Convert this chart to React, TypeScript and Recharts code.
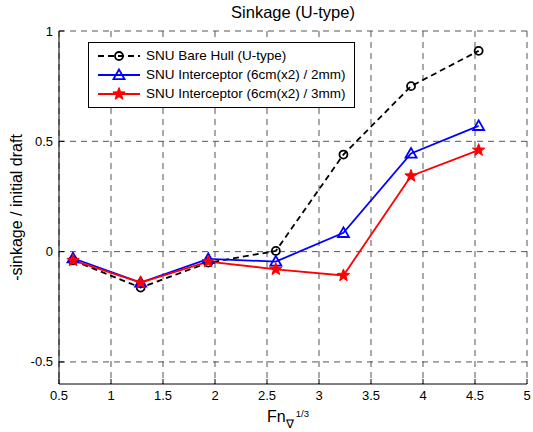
import React from 'react'
import {
  LineChart,
  Line,
  XAxis,
  YAxis,
  CartesianGrid,
} from 'recharts'

const FN = [0.635, 1.285, 1.935, 2.585, 3.235, 3.885, 4.535]
const BARE_HULL = [-0.04, -0.163, -0.05, 0.003, 0.44, 0.75, 0.91]
const INTERCEPTOR_2MM = [-0.03, -0.14, -0.033, -0.045, 0.085, 0.445, 0.57]
const INTERCEPTOR_3MM = [-0.04, -0.14, -0.045, -0.08, -0.108, 0.343, 0.46]

const X_TICKS = [0.5, 1, 1.5, 2, 2.5, 3, 3.5, 4, 4.5, 5]
const Y_TICKS = [-0.5, 0, 0.5, 1]

const SERIES = [
  { key: 'bare', name: 'SNU Bare Hull (U-type)', color: '#000000', dash: '6 4', marker: 'circle' },
  { key: 'i2', name: 'SNU Interceptor (6cm(x2) / 2mm)', color: '#0000ff', dash: undefined, marker: 'triangle' },
  { key: 'i3', name: 'SNU Interceptor (6cm(x2) / 3mm)', color: '#ff0000', dash: undefined, marker: 'star' },
]

const data = FN.map((fn, i) => ({
  fn,
  bare: BARE_HULL[i],
  i2: INTERCEPTOR_2MM[i],
  i3: INTERCEPTOR_3MM[i],
}))

const FONT = '"Liberation Sans", Arial, Helvetica, sans-serif'
const TICK_GAP = 6
const TICK_LEN = 5

function Marker({ type, cx, cy, color }: { type: string; cx: number; cy: number; color: string }) {
  if (type === 'circle') {
    return <circle cx={cx} cy={cy} r={4} fill="none" stroke={color} strokeWidth={1.8} />
  }
  if (type === 'triangle') {
    const s = 5.5
    return (
      <polygon
        points={`${cx},${cy - s} ${cx - s},${cy + s * 0.75} ${cx + s},${cy + s * 0.75}`}
        fill="none"
        stroke={color}
        strokeWidth={1.8}
      />
    )
  }
  const pts: string[] = []
  for (let k = 0; k < 10; k++) {
    const r = k % 2 === 0 ? 6.5 : 2.7
    const a = -Math.PI / 2 + (k * Math.PI) / 5
    pts.push(`${cx + r * Math.cos(a)},${cy + r * Math.sin(a)}`)
  }
  return <polygon points={pts.join(' ')} fill={color} stroke={color} strokeWidth={1} />
}

function makeDot(type: string, color: string) {
  return (p: any) => {
    if (p.cx == null || p.cy == null) return <g key={p.key} />
    return (
      <g key={p.key}>
        <Marker type={type} cx={p.cx} cy={p.cy} color={color} />
      </g>
    )
  }
}

// ticks point inward, like the matlab frame
function BottomTick(p: any) {
  const axisY = p.y - TICK_GAP
  return (
    <g>
      <line x1={p.x} x2={p.x} y1={axisY} y2={axisY - TICK_LEN} stroke="#000" />
      <text x={p.x} y={p.y + 10} textAnchor="middle" fontSize={13} fontFamily={FONT} fill="#000">
        {p.payload.value}
      </text>
    </g>
  )
}

function TopTick(p: any) {
  const axisY = p.y + TICK_GAP
  return <line x1={p.x} x2={p.x} y1={axisY} y2={axisY + TICK_LEN} stroke="#000" />
}

function LeftTick(p: any) {
  const axisX = p.x + TICK_GAP
  return (
    <g>
      <line x1={axisX} x2={axisX + TICK_LEN} y1={p.y} y2={p.y} stroke="#000" />
      <text x={axisX - 6} y={p.y + 4.5} textAnchor="end" fontSize={13} fontFamily={FONT} fill="#000">
        {p.payload.value}
      </text>
    </g>
  )
}

function RightTick(p: any) {
  const axisX = p.x - TICK_GAP
  return <line x1={axisX} x2={axisX - TICK_LEN} y1={p.y} y2={p.y} stroke="#000" />
}

function LegendBox() {
  return (
    <div
      style={{
        position: 'absolute',
        left: 88,
        top: 42,
        background: '#fff',
        border: '1px solid #000',
        padding: '3px 8px 4px 8px',
        fontFamily: FONT,
        fontSize: 13.5,
        color: '#000',
      }}
    >
      {SERIES.map((s) => (
        <div key={s.key} style={{ display: 'flex', alignItems: 'center', height: 19 }}>
          <svg width={44} height={16} style={{ marginRight: 5 }}>
            <line x1={1} x2={43} y1={8} y2={8} stroke={s.color} strokeWidth={1.8} strokeDasharray={s.dash} />
            <Marker type={s.marker} cx={22} cy={8} color={s.color} />
          </svg>
          <span style={{ whiteSpace: 'nowrap' }}>{s.name}</span>
        </div>
      ))}
    </div>
  )
}

export default function App() {
  return (
    <div style={{ position: 'absolute', left: 0, top: 0, width: 533, height: 432, background: '#fff' }}>
      <LineChart width={533} height={432} data={data} margin={{ top: 31, right: 6, bottom: 0, left: 0 }}>
        <CartesianGrid
          xAxisId="b"
          yAxisId="l"
          stroke="#555"
          strokeDasharray="6 5"
          verticalValues={X_TICKS}
          horizontalValues={Y_TICKS}
        />
        <XAxis
          xAxisId="b"
          dataKey="fn"
          type="number"
          domain={[0.5, 5]}
          ticks={X_TICKS}
          allowDataOverflow
          height={48}
          axisLine={{ stroke: '#000' }}
          tickLine={false}
          tickSize={0}
          tickMargin={TICK_GAP}
          tick={<BottomTick />}
          interval={0}
          label={{
            content: (lp: any) => {
              const vb = lp.viewBox
              const cx = vb.x + vb.width / 2
              return (
                <text x={cx - 5} y={422} fontFamily={FONT} fill="#000" textAnchor="middle">
                  <tspan fontSize={16}>Fn</tspan>
                  <tspan fontSize={12} dy={6}>∇</tspan>
                  <tspan fontSize={9.5} dy={-11} dx={2}>1/3</tspan>
                </text>
              )
            },
          }}
        />
        <XAxis
          xAxisId="t"
          orientation="top"
          dataKey="fn"
          type="number"
          domain={[0.5, 5]}
          ticks={X_TICKS}
          allowDataOverflow
          height={0}
          axisLine={{ stroke: '#000' }}
          tickLine={false}
          tickSize={0}
          tickMargin={TICK_GAP}
          tick={<TopTick />}
          interval={0}
        />
        <YAxis
          yAxisId="l"
          type="number"
          domain={[-0.6, 1]}
          ticks={Y_TICKS}
          allowDataOverflow
          width={59}
          axisLine={{ stroke: '#000' }}
          tickLine={false}
          tickSize={0}
          tickMargin={TICK_GAP}
          tick={<LeftTick />}
          interval={0}
          label={{
            content: (lp: any) => {
              const vb = lp.viewBox
              const cy = vb.y + vb.height / 2
              return (
                <text
                  x={22}
                  y={cy}
                  transform={`rotate(-90 22 ${cy})`}
                  textAnchor="middle"
                  fontSize={16}
                  fontFamily={FONT}
                  fill="#000"
                >
                  -sinkage / initial draft
                </text>
              )
            },
          }}
        />
        <YAxis
          yAxisId="r"
          orientation="right"
          type="number"
          domain={[-0.6, 1]}
          ticks={Y_TICKS}
          allowDataOverflow
          width={0}
          axisLine={{ stroke: '#000' }}
          tickLine={false}
          tickSize={0}
          tickMargin={TICK_GAP}
          tick={<RightTick />}
          interval={0}
        />
        {SERIES.map((s) => (
          <Line
            key={s.key}
            xAxisId="b"
            yAxisId="l"
            dataKey={s.key}
            name={s.name}
            stroke={s.color}
            strokeWidth={1.8}
            strokeDasharray={s.dash}
            dot={makeDot(s.marker, s.color)}
            activeDot={false}
            isAnimationActive={false}
          />
        ))}
      </LineChart>
      <div
        style={{
          position: 'absolute',
          left: 59,
          width: 468,
          top: 3,
          textAlign: 'center',
          fontFamily: FONT,
          fontSize: 16.5,
          color: '#000',
        }}
      >
        Sinkage (U-type)
      </div>
      <LegendBox />
    </div>
  )
}
